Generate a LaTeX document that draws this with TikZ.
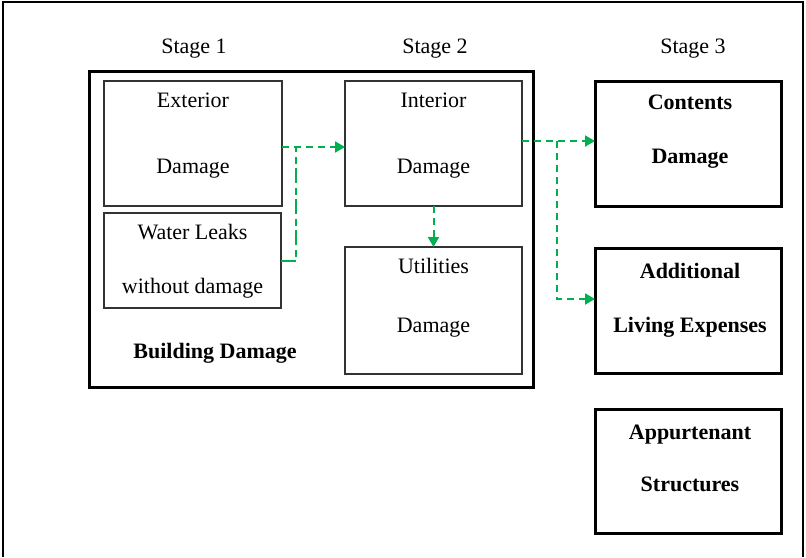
\documentclass[tikz,border=0pt]{standalone}
\usepackage{fontspec}
\newfontfamily\tnr{LiberationSerif}[Extension=.ttf, UprightFont=*-Regular, BoldFont=*-Bold]
\usetikzlibrary{arrows.meta}
\definecolor{flowgreen}{RGB}{0,176,80}
\tikzset{
  thinbox/.style={draw=black!80, line width=1.5pt, rectangle, inner sep=0pt, outer sep=0pt},
  thickbox/.style={draw=black, line width=3pt, rectangle, inner sep=0pt, outer sep=0pt},
  lbl/.style={font=\tnr\fontsize{22}{24}\selectfont, anchor=base, inner sep=0pt},
  blbl/.style={lbl, font=\tnr\fontsize{22}{24}\selectfont\bfseries},
  flow/.style={draw=flowgreen, line width=2pt, dash pattern=on 7pt off 5pt},
  arr/.style={flow, -{Triangle[length=10pt,width=11pt]}}
}
\begin{document}
\begin{tikzpicture}[x=1pt,y=-1pt]
\useasboundingbox (0,0) rectangle (806,557);
% outer frame
\draw[line width=2pt] (3,557) -- (3,2) -- (803,2) -- (803,557);
% stage labels
\node[lbl] (s1) at (194,53) {Stage 1};
\node[lbl] (s2) at (435,53) {Stage 2};
\node[lbl] (s3) at (693,53) {Stage 3};
% building damage group
\node[thickbox, minimum width=444pt, minimum height=316pt] (bld) at (311,229) {};
\node[thinbox, minimum width=178pt, minimum height=125pt] (ext) at (193,143.5) {};
\node[thinbox, minimum width=177pt, minimum height=95pt] (wl) at (192.5,260.5) {};
\node[thinbox, minimum width=177pt, minimum height=125pt] (int) at (433.5,143.5) {};
\node[thinbox, minimum width=177pt, minimum height=127pt] (util) at (433.5,310.5) {};
\node[lbl] (t-ext1) at (193,107) {Exterior};
\node[lbl] (t-ext2) at (193,173) {Damage};
\node[lbl] (t-wl1) at (192.5,239) {Water Leaks};
\node[lbl] (t-wl2) at (192.5,293) {without damage};
\node[lbl] (t-int1) at (433.5,107) {Interior};
\node[lbl] (t-int2) at (433.5,173) {Damage};
\node[lbl] (t-ut1) at (433.5,273) {Utilities};
\node[lbl] (t-ut2) at (433.5,332) {Damage};
\node[blbl] (t-bld) at (215,358) {Building Damage};
% stage 3 boxes
\node[thickbox, minimum width=186pt, minimum height=125pt] (cont) at (688,143.5) {};
\node[thickbox, minimum width=186pt, minimum height=125pt] (add) at (688,310.5) {};
\node[thickbox, minimum width=186pt, minimum height=124pt] (app) at (688,471) {};
\node[blbl] (t-c1) at (690,109) {Contents};
\node[blbl] (t-c2) at (690,163) {Damage};
\node[blbl] (t-a1) at (690,278) {Additional};
\node[blbl] (t-a2) at (690,332) {Living Expenses};
\node[blbl] (t-p1) at (690,439) {Appurtenant};
\node[blbl] (t-p2) at (690,491) {Structures};
% connectors
\coordinate (j1) at (296,147);
\coordinate (j2) at (557,141);
\coordinate (j3) at (557,299);
\draw[arr] (ext.east |- j1) -- (int.west |- j1);
\draw[flow, dash pattern=on 15pt off 4pt on 7pt off 5pt] (wl.east) -- (wl.east -| j1) -- (j1);
\draw[arr] (int.east |- j2) -- (cont.west |- j2);
\draw[arr] (j2) -- (j3) -- (add.west |- j3);
\draw[arr] (int.south) -- (util.north);
\end{tikzpicture}
\end{document}
